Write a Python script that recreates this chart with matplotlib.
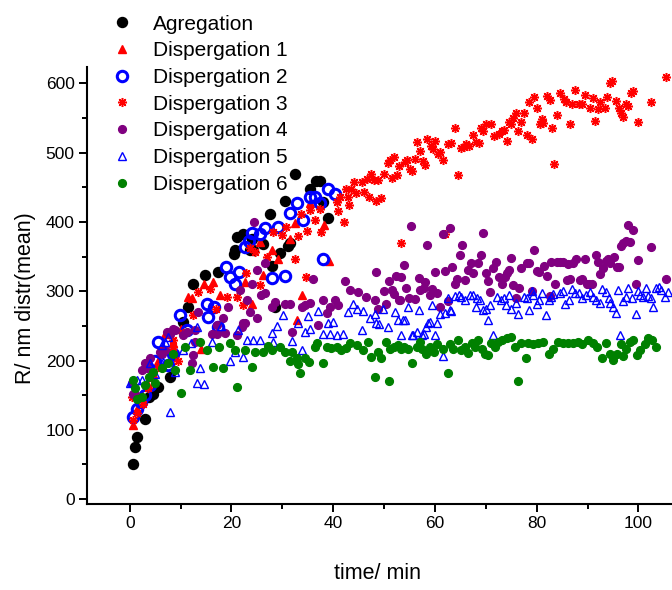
import matplotlib
matplotlib.use("Agg")
import matplotlib.pyplot as plt
from matplotlib.ticker import MultipleLocator

plt.rcParams['font.family'] = ['Liberation Sans', 'DejaVu Sans']

# Agregation
agg_x = [0.6, 1.0, 1.5, 3.0, 3.7, 4.6, 5.6, 7.9, 10.5, 11.5, 12.5, 14.8, 17.4, 20.4, 20.7, 21.0, 22.3, 23.6,
         24.0, 24.3, 26.2, 27.6, 27.9, 28.5, 29.5, 30.5, 31.2, 31.5, 32.5, 35.4, 36.7, 37.4, 38.0, 39.0]
agg_y = [50, 75, 90, 116, 148, 152, 162, 176, 256, 278, 310, 323, 328, 354, 359, 378, 382, 359,
         376, 359, 368, 412, 336, 278, 355, 431, 366, 369, 469, 447, 459, 459, 429, 406]

# Dispergation 1
d1_x = [0.6, 1.5, 2.5, 3.5, 4.5, 5.5, 6.9, 8.5, 10.0, 11.5, 12.2, 14.1, 14.5, 16.4, 17.7, 22.6, 24.0, 25.6,
        26.2, 27.9, 29.2, 31.5, 32.5, 32.8, 33.8, 35.4, 38.2, 39.2]
d1_y = [107, 130, 150, 165, 180, 200, 238, 225, 245, 292, 290, 217, 310, 314, 295, 314, 281, 371,
        323, 360, 346, 376, 398, 259, 294, 427, 395, 344]

# Dispergation 2
d2_x = [0.7, 1.4, 2.2, 3.0, 4.0, 5.0, 5.6, 7.6, 8.6, 9.9, 11.2, 15.1, 15.4, 16.6, 17.4, 18.9, 19.7, 20.7,
        21.5, 22.7, 23.5, 24.0, 25.6, 26.6, 27.9, 29.1, 30.5, 31.5, 32.8, 34.1, 35.4, 36.4, 37.4, 38.0,
        39.0, 40.4]
d2_y = [119, 130, 140, 150, 165, 200, 227, 193, 210, 266, 244, 281, 263, 278, 249, 335, 321, 310,
        328, 364, 373, 384, 383, 392, 319, 393, 322, 413, 427, 403, 436, 436, 427, 347,
        448, 441]

# Dispergation 3
d3_x = [0.4, 0.7, 1.5, 2.7, 3.5, 4.5, 5.5, 6.6, 8.6, 8.6, 9.5, 10.5, 12.5, 13.5, 15.8, 17.0, 19.1, 21.0,
        22.3, 22.9, 23.6, 24.6, 25.6, 26.9, 28.2, 29.9, 30.8, 32.5, 33.1, 33.6, 34.6, 34.9, 35.4, 36.4,
        37.4, 37.5, 40.7, 41.0, 41.3, 42.1, 42.5, 43.0, 43.1, 43.5, 44.1, 44.5, 45.6, 46.1, 46.6, 47.1,
        47.5, 48.1, 48.5, 48.9, 49.4, 50.0, 50.7, 51.2, 51.5, 52.0, 52.5, 53.0, 53.4, 54.2, 54.5, 55.1,
        55.5, 56.0, 56.5, 57.0, 57.6, 58.0, 58.5, 59.2, 59.7, 60.0, 60.6, 61.0, 61.5, 62.0, 62.5, 63.1,
        64.0, 64.6, 65.1, 65.7, 66.2, 66.7, 67.5, 68.0, 68.6, 69.0, 69.5, 70.1, 71.0, 71.6, 72.6, 73.1,
        73.5, 74.1, 74.5, 74.9, 75.4, 75.9, 76.4, 77.0, 77.5, 78.0, 78.5, 79.0, 79.5, 80.0, 80.6, 81.0,
        81.3, 82.0, 82.6, 83.0, 83.5, 84.0, 84.5, 85.4, 85.7, 86.6, 87.0, 87.6, 88.3, 89.0, 89.5, 90.4,
        91.0, 91.5, 92.0, 92.5, 93.4, 93.9, 94.5, 94.9, 95.5, 96.1, 96.5, 97.0, 97.5, 98.0, 98.5, 99.0,
        100.0, 102.4, 105.5]
d3_y = [148, 114, 125, 138, 160, 175, 190, 215, 220, 229, 200, 240, 266, 299, 304, 275, 292, 292,
        280, 326, 362, 357, 309, 349, 386, 381, 393, 346, 380, 412, 321, 387, 417, 403,
        419, 386, 429, 416, 436, 400, 447, 436, 424, 448, 458, 442, 457, 443, 462, 436,
        469, 460, 430, 460, 434, 469, 485, 490, 464, 494, 468, 481, 369, 486, 490, 477,
        474, 491, 516, 503, 488, 482, 520, 510, 505, 517, 498, 501, 489, 383, 512, 514,
        535, 468, 507, 508, 512, 510, 526, 516, 514, 535, 532, 541, 541, 524, 527, 531,
        533, 517, 544, 541, 550, 557, 531, 545, 557, 526, 573, 520, 580, 564, 541, 548,
        543, 582, 576, 535, 483, 555, 586, 577, 573, 541, 570, 590, 570, 570, 583, 564,
        579, 546, 563, 573, 564, 580, 600, 603, 575, 564, 557, 551, 570, 567, 586, 589,
        545, 573, 609]

# Dispergation 4
d4_x = [0.4, 0.7, 1.0, 2.4, 3.0, 3.3, 4.0, 6.0, 6.3, 6.9, 7.3, 7.9, 8.6, 8.9, 10.5, 11.2, 12.2, 12.5,
        12.8, 12.8, 13.5, 16.1, 17.1, 17.1, 18.4, 18.7, 19.4, 21.0, 21.7, 22.0, 22.3, 22.7, 23.0, 23.6,
        24.0, 24.4, 25.0, 25.0, 25.9, 26.6, 26.6, 27.9, 28.5, 30.5, 31.5, 31.8, 33.8, 34.4, 35.4, 36.1,
        37.1, 38.0, 38.7, 39.4, 40.3, 41.0, 42.3, 43.3, 44.9, 46.4, 48.2, 48.5, 48.9, 50.0, 50.4, 50.9,
        51.5, 52.0, 52.4, 53.0, 53.1, 53.4, 53.9, 54.4, 54.9, 55.3, 56.0, 56.8, 57.0, 57.9, 58.0, 58.5,
        59.0, 59.5, 60.0, 60.4, 61.0, 61.6, 61.9, 62.5, 62.9, 63.4, 63.9, 64.4, 64.9, 65.4, 65.9, 66.5,
        67.0, 67.5, 68.5, 69.0, 69.5, 70.0, 70.5, 70.9, 71.4, 72.0, 72.5, 73.1, 73.7, 74.2, 74.6, 75.0,
        75.4, 75.9, 76.5, 77.0, 78.0, 78.5, 79.0, 79.5, 80.1, 80.5, 81.5, 82.0, 82.6, 82.9, 83.6, 83.9,
        84.5, 85.2, 85.9, 86.2, 86.6, 87.2, 87.8, 88.5, 89.0, 89.4, 89.8, 90.3, 90.8, 91.6, 92.0, 92.5,
        93.0, 93.6, 94.0, 94.5, 95.1, 95.7, 96.2, 96.5, 97.0, 97.5, 98.0, 98.4, 98.9, 99.5, 99.9, 102.4,
        105.4]
d4_y = [167, 152, 152, 186, 196, 189, 203, 213, 210, 215, 241, 239, 246, 244, 237, 241, 196, 208,
        244, 227, 270, 239, 251, 239, 261, 240, 278, 237, 302, 249, 254, 254, 287, 270,
        311, 400, 330, 261, 294, 341, 297, 278, 285, 282, 282, 241, 278, 280, 283, 317,
        252, 288, 268, 278, 287, 280, 315, 302, 299, 292, 288, 328, 274, 301, 282, 315,
        302, 296, 322, 287, 287, 321, 338, 305, 291, 394, 289, 319, 302, 305, 314, 367,
        294, 304, 328, 298, 277, 382, 329, 286, 392, 335, 311, 318, 353, 367, 316, 330,
        341, 327, 341, 352, 384, 327, 315, 299, 333, 342, 321, 311, 321, 326, 331, 348,
        309, 291, 305, 333, 341, 341, 301, 360, 329, 328, 336, 322, 293, 342, 310, 342,
        342, 342, 316, 340, 318, 341, 346, 316, 317, 347, 311, 311, 311, 353, 342, 325,
        333, 344, 347, 341, 349, 335, 335, 365, 369, 373, 395, 371, 389, 311, 345, 364,
        317]

# Dispergation 5
d5_x = [0.1, 0.4, 1.5, 2.4, 3.9, 5.0, 6.3, 6.6, 6.9, 7.6, 7.9, 8.9, 10.5, 12.0, 13.2, 13.2, 13.8, 14.5,
        16.1, 17.9, 19.7, 20.7, 21.3, 22.3, 23.0, 24.3, 25.6, 27.9, 28.2, 28.9, 30.2, 31.9, 33.1, 33.8,
        34.4, 35.1, 35.4, 37.1, 37.9, 39.0, 39.4, 40.0, 40.7, 42.0, 42.9, 43.9, 44.6, 45.6, 45.9, 47.2,
        48.2, 48.5, 49.0, 49.8, 50.8, 52.1, 52.7, 53.4, 53.8, 54.1, 54.7, 55.4, 55.7, 56.4, 56.9, 57.4,
        57.9, 58.3, 58.7, 59.0, 59.4, 60.0, 60.4, 61.0, 61.5, 62.0, 62.5, 62.9, 63.1, 63.9, 64.8, 65.2,
        65.9, 66.9, 67.4, 68.0, 68.3, 68.8, 69.5, 70.0, 70.5, 70.9, 71.4, 72.1, 72.9, 73.5, 73.9, 74.5,
        75.0, 76.0, 76.3, 77.5, 78.0, 78.5, 79.0, 79.3, 80.0, 80.5, 81.0, 81.9, 82.4, 82.9, 83.2, 84.5,
        85.1, 85.5, 86.4, 87.0, 87.5, 88.4, 89.0, 89.6, 90.4, 91.0, 91.6, 92.4, 92.9, 93.7, 94.2, 94.4,
        95.0, 95.5, 96.0, 96.4, 97.0, 97.5, 97.9, 98.8, 99.5, 99.9, 100.4, 100.9, 101.4, 101.9, 102.4,
        102.9, 103.4, 104.0, 104.5, 105.2, 105.8]
d5_y = [167, 169, 172, 172, 196, 181, 222, 198, 227, 234, 126, 184, 215, 225, 249, 167, 189, 166,
        227, 250, 200, 213, 244, 205, 229, 229, 229, 240, 227, 250, 266, 228, 254, 215,
        241, 264, 246, 271, 238, 254, 239, 256, 237, 239, 270, 282, 275, 244, 272, 261,
        267, 254, 253, 275, 249, 270, 258, 237, 258, 258, 277, 237, 237, 241, 273, 237,
        239, 249, 254, 256, 280, 237, 254, 267, 206, 269, 291, 273, 271, 293, 294, 292,
        287, 294, 294, 278, 291, 287, 273, 275, 259, 280, 237, 292, 288, 291, 280, 294,
        274, 283, 267, 292, 290, 273, 301, 294, 281, 287, 297, 266, 287, 292, 296, 298,
        301, 281, 288, 304, 298, 297, 290, 294, 299, 292, 288, 283, 304, 299, 290, 283,
        277, 269, 302, 237, 286, 292, 305, 290, 267, 301, 294, 292, 305, 293, 291,
        277, 305, 306, 302, 292, 299]

# Dispergation 6
d6_x = [0.6, 1.0, 1.5, 2.5, 3.0, 3.7, 4.6, 5.0, 6.3, 7.6, 8.6, 8.9, 10.0, 10.9, 11.8, 13.8, 15.1, 16.4,
        17.5, 18.4, 19.7, 20.7, 21.0, 22.6, 24.0, 24.6, 26.2, 27.2, 27.9, 29.5, 30.5, 31.5, 31.8, 32.8,
        33.1, 33.5, 34.4, 35.3, 36.4, 36.9, 38.0, 38.7, 39.5, 40.7, 41.6, 42.5, 43.3, 44.6, 45.9, 46.9,
        47.5, 48.2, 48.8, 49.4, 50.3, 50.9, 51.1, 52.0, 52.8, 53.4, 54.0, 54.7, 55.5, 56.4, 57.0, 57.4,
        58.3, 59.1, 59.9, 60.4, 61.6, 62.5, 62.9, 63.6, 64.6, 65.1, 65.9, 66.5, 67.2, 67.8, 68.5, 69.2,
        69.8, 70.4, 71.1, 71.8, 72.4, 73.1, 74.1, 75.0, 75.7, 76.3, 77.0, 77.9, 78.3, 79.3, 80.3, 81.3,
        82.4, 83.2, 84.2, 85.2, 86.2, 87.2, 88.1, 89.0, 90.1, 91.0, 91.9, 92.9, 93.6, 94.4, 95.0, 95.7,
        96.5, 96.9, 97.6, 98.3, 98.9, 99.7, 100.4, 101.2, 101.9, 102.6, 103.4]
d6_y = [172, 160, 145, 148, 165, 176, 184, 167, 189, 196, 210, 186, 153, 220, 186, 227, 215, 191,
        220, 189, 225, 215, 162, 215, 191, 212, 212, 221, 215, 220, 213, 200, 212, 203,
        195, 182, 203, 198, 220, 226, 196, 220, 218, 220, 215, 218, 225, 222, 215, 227,
        205, 176, 213, 203, 227, 171, 217, 220, 222, 217, 219, 217, 196, 219, 227, 216,
        209, 220, 213, 224, 217, 182, 224, 216, 229, 215, 220, 211, 226, 220, 230, 216,
        209, 208, 225, 220, 227, 230, 232, 234, 220, 171, 225, 203, 226, 224, 225, 227,
        209, 216, 227, 225, 226, 226, 227, 224, 230, 225, 220, 204, 225, 209, 201, 210,
        224, 206, 216, 227, 229, 208, 215, 224, 233, 229, 220]

fig = plt.figure(figsize=(6.72, 5.90), dpi=100)
ax = fig.add_axes([0.1295, 0.1458, 0.8705, 0.741])

ax.plot(agg_x, agg_y, 'o', color='black', ms=7.2, mec='black', label='Agregation')
ax.plot(d1_x, d1_y, '^', color='red', ms=6, mec='red', label='Dispergation 1')
ax.plot(d2_x, d2_y, 'o', mfc='none', mec='blue', mew=2.2, ms=7.5, label='Dispergation 2')
ax.plot(d3_x, d3_y, marker=(8, 2, 0), ls='none', color='red', mec='red', mew=1.1, ms=6.5,
        label='Dispergation 3')
ax.plot(d4_x, d4_y, 'o', color='purple', mec='purple', ms=5.6, label='Dispergation 4')
ax.plot(d5_x, d5_y, '^', mfc='none', mec='blue', mew=1.0, ms=6, label='Dispergation 5')
ax.plot(d6_x, d6_y, 'o', color='green', mec='green', ms=5.6, label='Dispergation 6')

ax.set_xlim(-8.4, 106.6)
ax.set_ylim(-7, 624)
ax.xaxis.set_major_locator(MultipleLocator(20))
ax.xaxis.set_minor_locator(MultipleLocator(10))
ax.yaxis.set_major_locator(MultipleLocator(100))
ax.yaxis.set_minor_locator(MultipleLocator(50))

for s in ['top', 'right']:
    ax.spines[s].set_visible(False)
for s in ['left', 'bottom']:
    ax.spines[s].set_linewidth(1.5)
ax.tick_params(which='major', direction='out', length=6, width=1.4, labelsize=12.5, pad=3)
ax.tick_params(which='minor', direction='out', length=3.5, width=1.4)

ax.set_xlabel('time/ min', fontsize=15.5)
ax.set_ylabel('R/ nm distr(mean)', fontsize=15.5)
ax.xaxis.set_label_coords(0.496, -0.135)
ax.yaxis.set_label_coords(-0.087, 0.47)

fig.legend(loc='upper left', bbox_to_anchor=(0.145, 1.0), frameon=False, fontsize=15,
           handlelength=1.0, handletextpad=0.95, labelspacing=0.37, borderaxespad=0.3)

fig.savefig('out.png', dpi=100)
